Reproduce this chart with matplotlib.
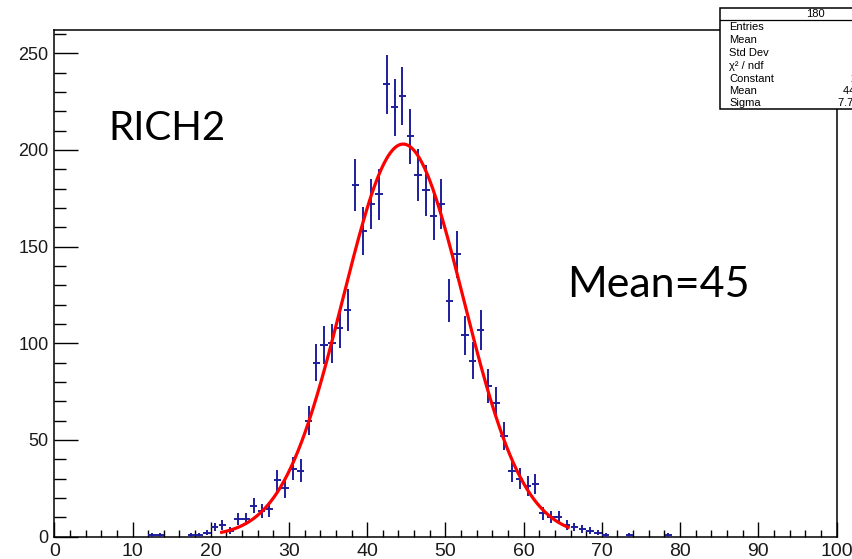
#!/usr/bin/env python3
"""RICH2 hit multiplicity histogram with Gaussian fit (ROOT style)."""

import matplotlib

matplotlib.use("Agg")
import matplotlib.pyplot as plt
import numpy as np
from matplotlib.patches import Rectangle
from matplotlib.lines import Line2D

# histogram: lower bin edge (bin width 1) and counts of the non-empty bins
BIN_LOW = [12, 13, 17, 18, 19, 20, 21, 22, 23, 24, 25, 26, 27, 28, 29, 30, 31,
           32, 33, 34, 35, 36, 37, 38, 39, 40, 41, 42, 43, 44, 45, 46, 47, 48,
           49, 50, 51, 52, 53, 54, 55, 56, 57, 58, 59, 60, 61, 62, 63, 64, 65,
           66, 67, 68, 69, 70, 73, 78]
COUNTS = [1, 1, 1, 1, 2, 5, 6, 3, 9, 9, 16, 13, 14, 29, 25, 35, 34,
          60, 90, 99, 100, 108, 117, 182, 158, 172, 177, 234, 222, 228, 207, 187, 179, 166,
          172, 122, 146, 104, 91, 107, 78, 69, 52, 34, 30, 26, 27, 12, 10, 10, 6,
          5, 4, 3, 2, 1, 1, 1]

# gaussian fit parameters
FIT_CONSTANT = 203.0
FIT_MEAN = 44.6
FIT_SIGMA = 7.7
FIT_RANGE = (21.4, 65.7)

STAT_LABELS = ["Entries", "Mean", "Std Dev", "\u03c7\u00b2 / ndf", "Constant", "Mean", "Sigma"]
STAT_VALUES = ["", "", "", "", "202.9 \u00b1 4.6", "44.78 \u00b1 0.14", "7.713 \u00b1 0.102"]

W, H = 853, 559
FONT = "Liberation Sans"


def px(x, y):
    """figure pixel (from top-left) -> figure fraction"""
    return x / W, 1 - y / H


def main() -> None:
    fig = plt.figure(figsize=(W / 100, H / 100), dpi=100)
    left, top, right, bottom = 54.3, 30, 836.5, 536.5
    ax = fig.add_axes([left / W, 1 - bottom / H, (right - left) / W, (bottom - top) / H])

    centers = np.asarray(BIN_LOW, dtype=float) + 0.5
    counts = np.asarray(COUNTS, dtype=float)
    ax.errorbar(centers, counts, yerr=np.sqrt(counts), xerr=0.47, fmt="none",
                ecolor="#1e1e9c", elinewidth=1.4, capsize=0, zorder=3)

    xf = np.linspace(FIT_RANGE[0], FIT_RANGE[1], 400)
    yf = FIT_CONSTANT * np.exp(-0.5 * ((xf - FIT_MEAN) / FIT_SIGMA) ** 2)
    ax.plot(xf, yf, color="#ff0000", lw=2.3, zorder=4)

    ax.set_xlim(0, 100)
    ax.set_ylim(0, 262)
    ax.set_xticks(np.arange(0, 101, 10))
    ax.set_xticks(np.arange(0, 101, 2), minor=True)
    ax.set_yticks(np.arange(0, 251, 50))
    ax.set_yticks(np.arange(0, 262, 10), minor=True)
    ax.tick_params(axis="x", which="major", direction="in", length=10.8, width=1.0,
                   pad=5, labelsize=14)
    ax.tick_params(axis="x", which="minor", direction="in", length=5.4, width=1.0)
    ax.tick_params(axis="y", which="major", direction="in", length=17.3, width=1.0,
                   pad=4, labelsize=13)
    ax.tick_params(axis="y", which="minor", direction="in", length=8.6, width=1.0)
    for lab in ax.get_xticklabels() + ax.get_yticklabels():
        lab.set_fontfamily(FONT)
        lab.set_color("#1a1a1a")
    for sp in ax.spines.values():
        sp.set_linewidth(1.1)

    ax.text(6.9, 205, "RICH2", fontsize=29, family="Lato", va="baseline", ha="left")
    ax.text(65.6, 124, "Mean=45", fontsize=31, family="Lato", va="baseline", ha="left")

    # stats box (runs off the right edge of the figure, as in the original)
    x0, y0 = px(720, 109)
    _, y1 = px(720, 8)
    fig.patches.append(Rectangle((x0, y0), 200 / W, y1 - y0, transform=fig.transFigure,
                                 facecolor="white", edgecolor="black", lw=1.1, zorder=10))
    hx, hy = px(720, 20)
    fig.lines.append(Line2D([hx, hx + 200 / W], [hy, hy], transform=fig.transFigure,
                            color="black", lw=0.9, zorder=11))
    fig.text(*px(815, 14), "180", fontsize=8, family=FONT, ha="center", va="center", zorder=12)
    row_y = [27.5, 40, 52.5, 66, 79, 91, 103]
    val_x = [880, 875, 875, 870, 851, 843, 838]
    for lab, val, yy, vx in zip(STAT_LABELS, STAT_VALUES, row_y, val_x):
        fig.text(*px(729, yy), lab, fontsize=8, family=FONT, ha="left", va="center", zorder=12)
        if val:
            fig.text(*px(vx, yy), val, fontsize=8, family=FONT, ha="left", va="center", zorder=12)

    fig.savefig("out.png", dpi=100)
    plt.close(fig)


if __name__ == "__main__":
    main()
